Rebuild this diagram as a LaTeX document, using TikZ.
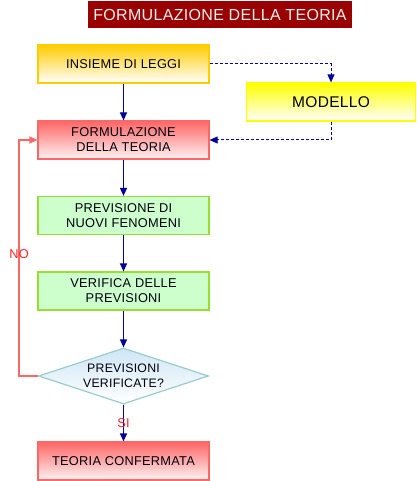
\documentclass[tikz,border=0pt]{standalone}
\usepackage{fontspec}
\setmainfont{Liberation Sans}[LetterSpace=2]
\usetikzlibrary{arrows.meta,shapes.geometric}
\definecolor{navyc}{HTML}{000099}
\definecolor{titlered}{HTML}{990000}
\definecolor{orangey}{HTML}{FFCC00}
\definecolor{yel}{HTML}{FFFF00}
\definecolor{salmon}{HTML}{FF6666}
\definecolor{mint}{HTML}{CCFFCC}
\definecolor{lime}{HTML}{99DD33}
\definecolor{skyb}{HTML}{CFE6F5}
\definecolor{teal2}{HTML}{99CCCC}
\definecolor{lblred}{HTML}{FF2222}
\begin{document}
\begin{tikzpicture}[x=1pt,y=-1pt,
  box/.style={rectangle,minimum width=171pt,minimum height=38pt,inner sep=0pt,
    line width=1.2pt,align=center,font=\fontsize{12.8}{15}\selectfont,text=black!90!navyc},
  yellowbox/.style={box,draw=orangey,top color=orangey,bottom color=white},
  modbox/.style={box,draw=yel,top color=yel,bottom color=white,minimum width=169pt,font=\fontsize{15.5}{18}\selectfont},
  redbox/.style={box,draw=salmon,top color=salmon,bottom color=salmon!8},
  greenbox/.style={box,draw=lime,fill=mint},
  decbox/.style={diamond,aspect=3,minimum width=170pt,minimum height=56pt,inner sep=0pt,
    line width=1.2pt,draw=teal2,top color=skyb,bottom color=white,align=center,
    font=\fontsize{12.3}{15}\selectfont,text=black!90!navyc},
  titlebox/.style={rectangle,fill=titlered,minimum width=264pt,minimum height=27pt,inner sep=0pt,
    text=white!94!black,font=\fontsize{16}{19}\selectfont},
  arr/.style={draw=navyc,line width=1.2pt,-{Triangle[length=8pt,width=7pt]}},
  darr/.style={arr,line width=1pt,dash pattern=on 3pt off 2pt},
  noarr/.style={draw=salmon,line width=1.2pt,-{Triangle[length=8pt,width=7pt]}},
  lbl/.style={text=lblred,font=\fontsize{12.8}{15}\selectfont,inner sep=0pt}]
\useasboundingbox (0,0) rectangle (416,481);
\node[titlebox] (t) at (220,14.5) {FORMULAZIONE DELLA TEORIA};
\node[yellowbox] (ins) at (123.5,64) {INSIEME DI LEGGI};
\node[modbox] (mod) at (331,102) {MODELLO};
\node[redbox] (form) at (123.5,140) {FORMULAZIONE\\DELLA TEORIA};
\node[greenbox] (prev) at (123.5,215.5) {PREVISIONE DI\\NUOVI FENOMENI};
\node[greenbox] (ver) at (123.5,291) {VERIFICA DELLE\\PREVISIONI};
\node[decbox] (dec) at (123.5,376) {PREVISIONI\\VERIFICATE?};
\node[redbox] (conf) at (123.5,461) {TEORIA CONFERMATA};
\coordinate (nc) at (19,376);
\draw[arr] (ins) -- (form);
\draw[arr] (form) -- (prev);
\draw[arr] (prev) -- (ver);
\draw[arr] (ver) -- (dec);
\draw[arr] (dec) -- node[lbl] (si) {SI} (conf);
\draw[darr] (ins.east) -| (mod.north);
\draw[darr] (mod.south) |- (form.east);
\draw[noarr] (dec.west) -- (nc) |- (form.west);
\node[lbl] (no) at (19,254) {NO};
\end{tikzpicture}
\end{document}
